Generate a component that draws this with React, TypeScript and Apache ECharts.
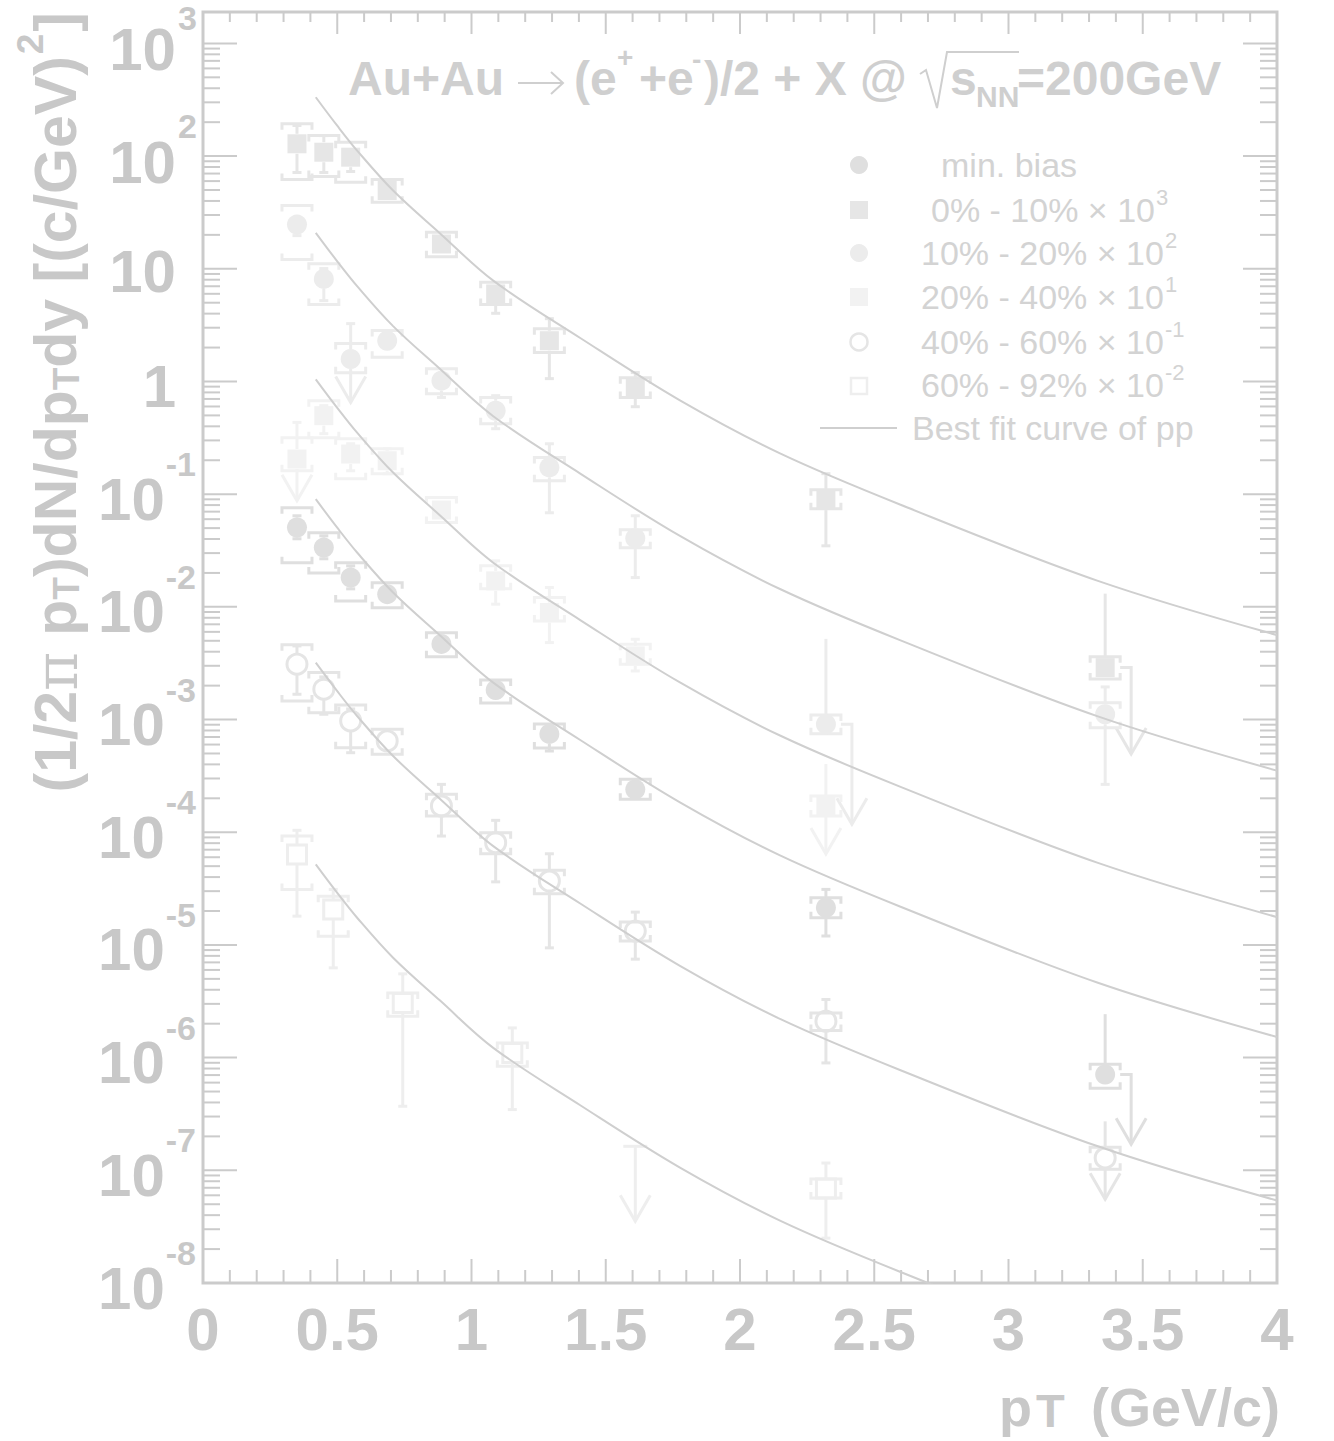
import React, { useEffect, useRef } from 'react';
import * as echarts from 'echarts';

// ---------------- axis / tick definitions ----------------
const X_LABELS = ['0', '0.5', '1', '1.5', '2', '2.5', '3', '3.5', '4'];
const X_LABEL_VALUES = [0, 0.5, 1, 1.5, 2, 2.5, 3, 3.5, 4];
const Y_EXPONENTS = [-8, -7, -6, -5, -4, -3, -2, -1, 0, 1, 2, 3];
const X_MIN = 0;
const X_MAX = 4;
const Y_MIN = 1e-8;
const Y_MAX = 1900;

// ---------------- best-fit pp curve (top curve, 0-10% x10^3) ----------------
const FIT_PT = [0.42, 0.5, 0.574, 0.708, 0.883, 1.081, 1.405, 1.778, 2.151, 2.598, 3.333, 4.0];
const FIT_Y = [333, 186, 112, 49.5, 20.6, 7.85, 2.43, 0.676, 0.2286, 0.0805, 0.01702, 0.00562];
// vertical shift (in decades) of each centrality's copy of the pp curve
const FIT_SHIFT_DECADES = [0, -1.203, -2.503, -3.567, -5.018, -6.808];

// ---------------- data ----------------
const PT10 = [0.35, 0.45, 0.55, 0.686, 0.888, 1.09, 1.29, 1.61, 2.32, 3.36];

// min. bias
const MB_PT = PT10;
const MB_Y = [0.0506, 0.0336, 0.0182, 0.01297, 0.00469, 0.00183, 7.45e-4, 2.4e-4, 2.14e-5, 7.08e-7];
const MB_STAT_LO = [0.0402, 0.0267, 0.01445, 0.01108, 0.00406, 0.001588, 5.26e-4, 2.1e-4, 1.2e-5, 7.08e-7];
const MB_STAT_HI = [0.0643, 0.0427, 0.02312, 0.01536, 0.00541, 0.002113, 8.6e-4, 2.73e-4, 3.11e-5, 2.43e-6];
const MB_SYS_LO = [0.0246, 0.02, 0.0113, 0.0098, 0.0036, 0.001404, 5.59e-4, 1.96e-4, 1.74e-5, 5.35e-7];
const MB_SYS_HI = [0.0757, 0.0454, 0.0246, 0.01633, 0.00588, 0.002247, 9.14e-4, 2.95e-4, 2.62e-5, 8.74e-7];
const MB_UL = [0, 0, 0, 0, 0, 0, 0, 0, 0, 1.7e-7];
const MB_UL_MODE = [0, 0, 0, 0, 0, 0, 0, 0, 0, 2];

// 0% - 10% x 10^3
const C0_PT = PT10;
const C0_Y = [128.6, 108.3, 97.8, 49.5, 16.6, 5.98, 2.3, 0.876, 0.0886, 0.00289];
const C0_STAT_LO = [71.5, 71.5, 73, 42.9, 14.2, 4.03, 1.06, 0.597, 0.0348, 0.00289];
const C0_STAT_HI = [187, 152, 112, 56, 19.3, 7.09, 3.61, 1.2, 0.152, 0.0131];
const C0_SYS_LO = [62.0, 65.9, 58.6, 38.96, 12.8, 4.81, 1.81, 0.722, 0.0742, 0.00229];
const C0_SYS_HI = [193.6, 152.4, 132.9, 62.0, 21.1, 7.59, 2.94, 1.08, 0.1094, 0.0036];
const C0_UL = [0, 0, 0, 0, 0, 0, 0, 0, 0, 4.95e-4];
const C0_UL_MODE = [0, 0, 0, 0, 0, 0, 0, 0, 0, 2];

// 10% - 20% x 10^2
const C1_PT = PT10;
const C1_Y = [24.7, 8.13, 1.584, 2.3, 1.016, 0.55, 0.1726, 0.0407, 9.08e-4, 1.114e-3];
const C1_STAT_LO = [19.7, 5.22, 1.584, 1.877, 0.722, 0.381, 0.0684, 0.0182, 9.08e-4, 2.66e-4];
const C1_STAT_HI = [29.7, 10.04, 3.26, 2.66, 1.197, 0.748, 0.28, 0.0643, 5.2e-3, 1.948e-3];
const C1_SYS_LO = [12.07, 4.81, 1.197, 1.637, 0.779, 0.422, 0.1315, 0.0334, 7.5e-4, 8.47e-4];
const C1_SYS_HI = [36.4, 11.1, 2.17, 2.83, 1.299, 0.722, 0.2118, 0.0483, 1.099e-3, 1.413e-3];
const C1_UL = [0, 0, 0.652, 0, 0, 0, 0, 0, 1.18e-4, 0];
const C1_UL_MODE = [0, 0, 1, 0, 0, 0, 0, 0, 2, 0];

// 20% - 40% x 10^1
const C2_PT = [0.35, 0.45, 0.55, 0.686, 0.888, 1.09, 1.29, 1.61, 2.32];
const C2_Y = [0.205, 0.497, 0.227, 0.198, 0.0723, 0.017, 0.0089, 0.00367, 1.709e-4];
const C2_STAT_LO = [0.205, 0.344, 0.1613, 0.1518, 0.0605, 0.01057, 0.00482, 0.0027, 1.709e-4];
const C2_STAT_HI = [0.4335, 0.6097, 0.28, 0.2531, 0.0874, 0.02562, 0.01484, 0.00516, 4.03e-4];
const C2_SYS_LO = [0.1613, 0.3168, 0.137, 0.1518, 0.0561, 0.01445, 0.00751, 0.0031, 1.393e-4];
const C2_SYS_HI = [0.3168, 0.6753, 0.3105, 0.2531, 0.0935, 0.02312, 0.01209, 0.00466, 2.097e-4];
const C2_UL = [0.0874, 0, 0, 0, 0, 0, 0, 0, 6.4e-5];
const C2_UL_MODE = [1, 0, 0, 0, 0, 0, 0, 0, 1];

// 40% - 60% x 10^-1
const C3_PT = PT10;
const C3_Y = [3.1e-3, 1.858e-3, 9.72e-4, 6.46e-4, 1.709e-4, 8.07e-5, 3.69e-5, 1.326e-5, 2.105e-6, 1.286e-7];
const C3_STAT_LO = [1.677e-3, 1.114e-3, 5.08e-4, 5.48e-4, 9.25e-5, 3.63e-5, 9.42e-6, 7.48e-6, 8.97e-7, 1.286e-7];
const C3_STAT_HI = [4.5e-3, 2.39e-3, 1.242e-3, 7.6e-4, 2.66e-4, 1.275e-4, 6.44e-5, 1.956e-5, 3.28e-6, 2.72e-7];
const C3_SYS_LO = [1.463e-3, 1.151e-3, 5.63e-4, 4.92e-4, 1.393e-4, 6.44e-5, 2.84e-5, 1.081e-5, 1.74e-6, 1.021e-7];
const C3_SYS_HI = [4.6e-3, 2.61e-3, 1.348e-3, 8.2e-4, 2.17e-4, 9.9e-5, 4.59e-5, 1.594e-5, 2.49e-6, 1.601e-7];
const C3_UL = [0, 0, 0, 0, 0, 0, 0, 0, 0, 5.53e-8];
const C3_UL_MODE = [0, 0, 0, 0, 0, 0, 0, 0, 0, 1];

// 60% - 92% x 10^-2
const C4_PT = [0.35, 0.485, 0.744, 1.152, 1.61, 2.32];
const C4_Y = [6.36e-5, 2.067e-5, 3.06e-6, 1.101e-6, 1.633e-7, 6.88e-8];
const C4_STAT_LO = [1.8e-5, 6.26e-6, 3.7e-7, 3.46e-7, 1.633e-7, 2.5e-8];
const C4_STAT_HI = [1.04e-4, 3.11e-5, 5.54e-6, 1.835e-6, 1.633e-7, 1.161e-7];
const C4_SYS_LO = [3.11e-5, 1.197e-5, 2.33e-6, 8.39e-7, 0, 5.68e-8];
const C4_SYS_HI = [9.25e-5, 2.71e-5, 3.75e-6, 1.351e-6, 0, 8.37e-8];
const C4_UL = [0, 0, 0, 0, 3.53e-8, 0];
const C4_UL_MODE = [0, 0, 0, 0, 3, 0];

// ---------------- styling ----------------
const FONT = 'Liberation Sans';
const AXIS_COLOR = '#cbcbcb';
const LABEL_COLOR = '#c8c8c8';
const TITLE_COLOR = '#cfcfcf';
const LEGEND_TEXT = '#d3d3d3';
const CURVE_COLOR = '#cfcfcf';

type SeriesCfg = {
  name: string;
  color: string;
  marker: 'circle' | 'square' | 'ocircle' | 'osquare';
  pt: number[]; y: number[]; stLo: number[]; stHi: number[]; syLo: number[]; syHi: number[];
  ul: number[]; ulMode: number[];
};

const SERIES: SeriesCfg[] = [
  { name: 'min. bias', color: '#dfdfdf', marker: 'circle', pt: MB_PT, y: MB_Y, stLo: MB_STAT_LO, stHi: MB_STAT_HI, syLo: MB_SYS_LO, syHi: MB_SYS_HI, ul: MB_UL, ulMode: MB_UL_MODE },
  { name: '0-10', color: '#e6e6e6', marker: 'square', pt: C0_PT, y: C0_Y, stLo: C0_STAT_LO, stHi: C0_STAT_HI, syLo: C0_SYS_LO, syHi: C0_SYS_HI, ul: C0_UL, ulMode: C0_UL_MODE },
  { name: '10-20', color: '#ececec', marker: 'circle', pt: C1_PT, y: C1_Y, stLo: C1_STAT_LO, stHi: C1_STAT_HI, syLo: C1_SYS_LO, syHi: C1_SYS_HI, ul: C1_UL, ulMode: C1_UL_MODE },
  { name: '20-40', color: '#f2f2f2', marker: 'square', pt: C2_PT, y: C2_Y, stLo: C2_STAT_LO, stHi: C2_STAT_HI, syLo: C2_SYS_LO, syHi: C2_SYS_HI, ul: C2_UL, ulMode: C2_UL_MODE },
  { name: '40-60', color: '#e5e5e5', marker: 'ocircle', pt: C3_PT, y: C3_Y, stLo: C3_STAT_LO, stHi: C3_STAT_HI, syLo: C3_SYS_LO, syHi: C3_SYS_HI, ul: C3_UL, ulMode: C3_UL_MODE },
  { name: '60-92', color: '#eeeeee', marker: 'osquare', pt: C4_PT, y: C4_Y, stLo: C4_STAT_LO, stHi: C4_STAT_HI, syLo: C4_SYS_LO, syHi: C4_SYS_HI, ul: C4_UL, ulMode: C4_UL_MODE },
];

// ---------------- text helpers ----------------
let measureCtx: CanvasRenderingContext2D | null = null;
function textWidth(t: string, size: number, weight: string, family: string) {
  if (!measureCtx) measureCtx = document.createElement('canvas').getContext('2d');
  measureCtx!.font = `${weight} ${size}px "${family}"`;
  return measureCtx!.measureText(t).width;
}

function txt(x: number, y: number, text: string, size: number, weight: string, family: string, align: string, color: string) {
  return {
    type: 'text', x, y, silent: true,
    style: { text, fontSize: size, fontWeight: weight, fontFamily: family, fill: color, align, verticalAlign: 'middle' },
  };
}

type Seg = { t: string; size: number; weight?: string; family?: string; dy?: number; dx?: number };
function run(x0: number, yc: number, segs: Seg[], align: 'left' | 'right' | 'center', color: string) {
  const ws = segs.map((s) => textWidth(s.t, s.size, s.weight || 'bold', s.family || FONT) + (s.dx || 0));
  const total = ws.reduce((a, b) => a + b, 0);
  let x = align === 'right' ? x0 - total : align === 'center' ? x0 - total / 2 : x0;
  const els: any[] = [];
  segs.forEach((s, i) => {
    const w = s.weight || 'bold';
    const f = s.family || FONT;
    x += s.dx || 0;
    const lead = s.t.length - s.t.replace(/^\s+/, '').length;
    const off = lead ? textWidth(s.t.slice(0, lead), s.size, w, f) : 0;
    const body = s.t.trim();
    if (body) els.push(txt(x + off, yc + (s.dy || 0), body, s.size, w, f, 'left', color));
    x += ws[i] - (s.dx || 0);
  });
  return { els, width: total };
}

// ---------------- render functions ----------------
function renderAxes(_params: any, api: any) {
  const ch: any[] = [];
  const xL = api.coord([X_MIN, 1])[0];
  const xR = api.coord([X_MAX, 1])[0];
  const yB = api.coord([X_MIN, Y_MIN])[1];
  const yT = api.coord([X_MIN, Y_MAX])[1];
  const L = (x1: number, y1: number, x2: number, y2: number) =>
    ch.push({ type: 'line', silent: true, shape: { x1, y1, x2, y2 }, style: { stroke: AXIS_COLOR, lineWidth: 2 } });
  for (let i = 0; i <= 40; i++) {
    const v = i / 10;
    const major = i % 5 === 0;
    const px = api.coord([v, 1])[0];
    L(px, yB, px, yB - (major ? 24 : 13));
    L(px, yT, px, yT + (major ? 22 : 10));
  }
  for (const e of Y_EXPONENTS) {
    for (let k = 1; k <= 9; k++) {
      const v = k * Math.pow(10, e);
      if (v > Y_MAX * 1.0001) continue;
      const py = api.coord([X_MIN, v])[1];
      const len = k === 1 ? 34 : 17;
      L(xL, py, xL + len, py);
      L(xR, py, xR - len, py);
    }
  }
  X_LABEL_VALUES.forEach((v, i) => {
    const px = api.coord([v, 1])[0];
    ch.push(txt(px, yB + 46, X_LABELS[i], 60, 'bold', FONT, 'center', LABEL_COLOR));
  });
  for (const e of Y_EXPONENTS) {
    const py = api.coord([X_MIN, Math.pow(10, e)])[1];
    if (e === 0) ch.push(txt(xL - 27, py + 5, '1', 60, 'bold', FONT, 'right', LABEL_COLOR));
    else if (e === 1) ch.push(txt(xL - 27, py + 3, '10', 60, 'bold', FONT, 'right', LABEL_COLOR));
    else if (e > 1) {
      ch.push(txt(xL - 27, py + 6, '10', 60, 'bold', FONT, 'right', LABEL_COLOR));
      ch.push(txt(xL - 25, Math.max(py - 30, 18), String(e), 34, 'bold', FONT, 'left', LABEL_COLOR));
    } else {
      const s = String(e);
      const w = textWidth(s, 34, 'bold', FONT);
      ch.push(txt(xL - 7, py - 30, s, 34, 'bold', FONT, 'right', LABEL_COLOR));
      ch.push(txt(xL - 7 - w - 1, py + 5, '10', 60, 'bold', FONT, 'right', LABEL_COLOR));
    }
  }
  return { type: 'group', children: ch };
}

function makeRender(cfg: SeriesCfg) {
  return (_params: any, api: any) => {
    const x = api.value(0);
    const y = api.value(1);
    const stLo = api.value(2);
    const stHi = api.value(3);
    const syLo = api.value(4);
    const syHi = api.value(5);
    const tip = api.value(6);
    const mode = api.value(7);
    const [px, py] = api.coord([x, y]);
    const col = cfg.color;
    const lw = 3;
    const r = 10;
    const hw = 15;
    const ch: any[] = [];
    const L = (x1: number, y1: number, x2: number, y2: number) =>
      ch.push({ type: 'line', shape: { x1, y1, x2, y2 }, style: { stroke: col, lineWidth: lw } });
    const P = (pts: number[][]) =>
      ch.push({ type: 'polyline', shape: { points: pts }, style: { stroke: col, fill: 'none', lineWidth: lw } });
    const head = (ax: number, ay: number) => P([[ax - 15, ay - 26], [ax, ay], [ax + 15, ay - 26]]);
    const cy = (v: number) => api.coord([x, v])[1];

    if (mode === 3) {
      const yTop = cy(stHi);
      const yTip = cy(tip);
      L(px, yTop, px, yTip);
      L(px - 12, yTop, px + 12, yTop);
      head(px, yTip);
      return { type: 'group', children: ch };
    }
    const yHi = cy(stHi);
    const yLo = cy(stLo);
    if (yHi < py - r) {
      L(px, yHi, px, py - r);
      if (mode === 0 || x < 2) L(px - 4.5, yHi, px + 4.5, yHi);
    }
    if (mode !== 1 && yLo > py + r) {
      L(px, py + r, px, yLo);
      L(px - 4.5, yLo, px + 4.5, yLo);
    }
    if (syHi > 0 && syLo > 0) {
      const yt = cy(syHi);
      const yb = cy(syLo);
      const t = Math.min(6, Math.max(2, (yb - yt) / 2));
      P([[px - hw, yt + t], [px - hw, yt], [px + hw, yt], [px + hw, yt + t]]);
      P([[px - hw, yb - t], [px - hw, yb], [px + hw, yb], [px + hw, yb - t]]);
    }
    if (mode === 1) {
      const yTip = cy(tip);
      L(px, py + r, px, yTip);
      head(px, yTip);
    } else if (mode === 2) {
      const yTip = cy(tip);
      const ax = px + 26;
      P([[px + hw, py], [ax, py], [ax, yTip]]);
      head(ax, yTip);
    }
    if (cfg.marker === 'circle') ch.push({ type: 'circle', shape: { cx: px, cy: py, r }, style: { fill: col } });
    else if (cfg.marker === 'square') ch.push({ type: 'rect', shape: { x: px - 9.5, y: py - 9.5, width: 19, height: 19 }, style: { fill: col } });
    else if (cfg.marker === 'ocircle') ch.push({ type: 'circle', shape: { cx: px, cy: py, r: 10 }, style: { fill: 'none', stroke: col, lineWidth: 3 } });
    else ch.push({ type: 'rect', shape: { x: px - 9.5, y: py - 9.5, width: 19, height: 19 }, style: { fill: 'none', stroke: col, lineWidth: 3 } });
    return { type: 'group', children: ch };
  };
}

// ---------------- graphic (title, legend, axis titles) ----------------
function buildGraphic() {
  const els: any[] = [];
  // title
  const T = 48;
  const tc = TITLE_COLOR;
  els.push(txt(348, 78, 'Au+Au', T, 'bold', FONT, 'left', tc));
  // thin arrow
  els.push({ type: 'line', silent: true, shape: { x1: 518, y1: 83, x2: 562, y2: 83 }, style: { stroke: tc, lineWidth: 2 } });
  els.push({ type: 'polyline', silent: true, shape: { points: [[551, 72], [563, 83], [551, 94]] }, style: { stroke: tc, fill: 'none', lineWidth: 2 } });
  els.push(txt(574, 78, '(e', T, 'bold', FONT, 'left', tc));
  els.push(txt(617, 57, '+', 28, 'bold', FONT, 'left', tc));
  els.push(txt(639, 78, '+e', T, 'bold', FONT, 'left', tc));
  els.push(txt(692, 59, '-', 28, 'bold', FONT, 'left', tc));
  els.push(txt(704, 78, ')/2 + X @', T, 'bold', FONT, 'left', tc));
  els.push({ type: 'polyline', silent: true, shape: { points: [[920, 74], [926, 70], [937, 108], [947, 52], [1019, 52]] }, style: { stroke: tc, fill: 'none', lineWidth: 2 } });
  els.push(txt(950, 78, 's', T, 'bold', FONT, 'left', tc));
  els.push(txt(976, 96, 'NN', 30, 'bold', FONT, 'left', tc));
  els.push(txt(1017, 78, '=200GeV', T, 'bold', FONT, 'left', tc));

  // legend markers
  els.push({ type: 'circle', silent: true, shape: { cx: 859, cy: 165, r: 9 }, style: { fill: SERIES[0].color } });
  els.push({ type: 'rect', silent: true, shape: { x: 850, y: 201, width: 18, height: 18 }, style: { fill: SERIES[1].color } });
  els.push({ type: 'circle', silent: true, shape: { cx: 859, cy: 253, r: 9 }, style: { fill: SERIES[2].color } });
  els.push({ type: 'rect', silent: true, shape: { x: 850, y: 288, width: 18, height: 18 }, style: { fill: SERIES[3].color } });
  els.push({ type: 'circle', silent: true, shape: { cx: 859, cy: 342, r: 8.5 }, style: { fill: 'none', stroke: SERIES[4].color, lineWidth: 2.5 } });
  els.push({ type: 'rect', silent: true, shape: { x: 851, y: 378, width: 16, height: 16 }, style: { fill: 'none', stroke: SERIES[5].color, lineWidth: 2.5 } });
  els.push({ type: 'line', silent: true, shape: { x1: 820, y1: 428, x2: 897, y2: 428 }, style: { stroke: CURVE_COLOR, lineWidth: 2 } });

  const LF = 34;
  const reg = (t: string, extra: Partial<Seg> = {}): Seg => ({ t, size: LF, weight: 'normal', ...extra });
  const sup = (t: string): Seg => ({ t, size: 22, weight: 'normal', dy: -13, dx: 1 });
  const rows: [number, number, Seg[]][] = [
    [941, 165, [reg('min. bias')]],
    [931, 210, [reg('0% - 10%'), reg(' \u00d7 10'), sup('3')]],
    [921, 253, [reg('10% - 20%'), reg(' \u00d7 10'), sup('2')]],
    [921, 297, [reg('20% - 40%'), reg(' \u00d7 10'), sup('1')]],
    [921, 342, [reg('40% - 60%'), reg(' \u00d7 10'), sup('-1')]],
    [921, 385, [reg('60% - 92%'), reg(' \u00d7 10'), sup('-2')]],
    [912, 428, [reg('Best fit curve of pp')]],
  ];
  rows.forEach(([x, y, segs]) => els.push(...run(x, y, segs, 'left', LEGEND_TEXT).els));

  // x-axis title
  els.push(txt(999, 1407, 'p', 54, 'bold', FONT, 'left', LABEL_COLOR));
  els.push(txt(1036, 1410, 'T', 47, 'bold', FONT, 'left', LABEL_COLOR));
  els.push(txt(1280, 1407, '(GeV/c)', 54, 'bold', FONT, 'right', LABEL_COLOR));

  // y-axis title (rotated)
  const YF = 59;
  const ysegs: Seg[] = [
    { t: '(1/2', size: YF },
    { t: '\u03c0', size: YF, weight: 'normal', family: 'DejaVu Serif' },
    { t: ' p', size: YF },
    { t: 'T', size: 37, dy: 10 },
    { t: ')dN/dp', size: YF },
    { t: 'T', size: 37, dy: 10 },
    { t: 'dy [(c/GeV)', size: YF },
    { t: '2', size: 37, dy: -26, dx: 2 },
    { t: ']', size: YF, dx: 2 },
  ];
  const yr = run(0, 0, ysegs, 'left', LABEL_COLOR);
  els.push({ type: 'group', x: 56, y: 12 + yr.width, rotation: Math.PI / 2, children: yr.els });
  return els;
}

function buildOption() {
  const series: any[] = [];
  series.push({
    type: 'custom', name: 'axes', renderItem: renderAxes, data: [[1, 1]], clip: false, silent: true, z: 1,
  });
  SERIES.forEach((cfg) => {
    const data = cfg.pt.map((p, i) => [p, cfg.y[i], cfg.stLo[i], cfg.stHi[i], cfg.syLo[i], cfg.syHi[i], cfg.ul[i], cfg.ulMode[i]]);
    series.push({
      type: 'custom', name: cfg.name, renderItem: makeRender(cfg), data, clip: false, silent: true, z: 2,
      encode: { x: 0, y: 1 },
    });
  });
  FIT_SHIFT_DECADES.forEach((d, k) => {
    const scale = Math.pow(10, d);
    series.push({
      type: 'line', name: 'fit' + k, data: FIT_PT.map((p, i) => [p, FIT_Y[i] * scale]),
      smooth: 0.35, showSymbol: false, symbol: 'none', silent: true, z: 3, clip: true,
      lineStyle: { color: CURVE_COLOR, width: 2 },
    });
  });
  return {
    animation: false,
    backgroundColor: '#ffffff',
    grid: {
      left: 203, right: 57, top: 12, bottom: 158, show: true,
      borderColor: AXIS_COLOR, borderWidth: 3, backgroundColor: 'rgba(0,0,0,0)', containLabel: false, outerBoundsMode: 'none',
    },
    xAxis: { type: 'value', min: X_MIN, max: X_MAX, show: false },
    yAxis: { type: 'log', logBase: 10, min: Y_MIN, max: Y_MAX, show: false },
    graphic: { elements: buildGraphic() },
    series,
  };
}

export default function App() {
  const ref = useRef<HTMLDivElement>(null);
  useEffect(() => {
    const chart = echarts.init(ref.current!, null, { renderer: 'svg' });
    chart.setOption(buildOption() as any);
    return () => chart.dispose();
  }, []);
  return <div ref={ref} style={{ position: 'absolute', left: 0, top: 0, width: 1334, height: 1441, background: '#fff' }} />;
}
